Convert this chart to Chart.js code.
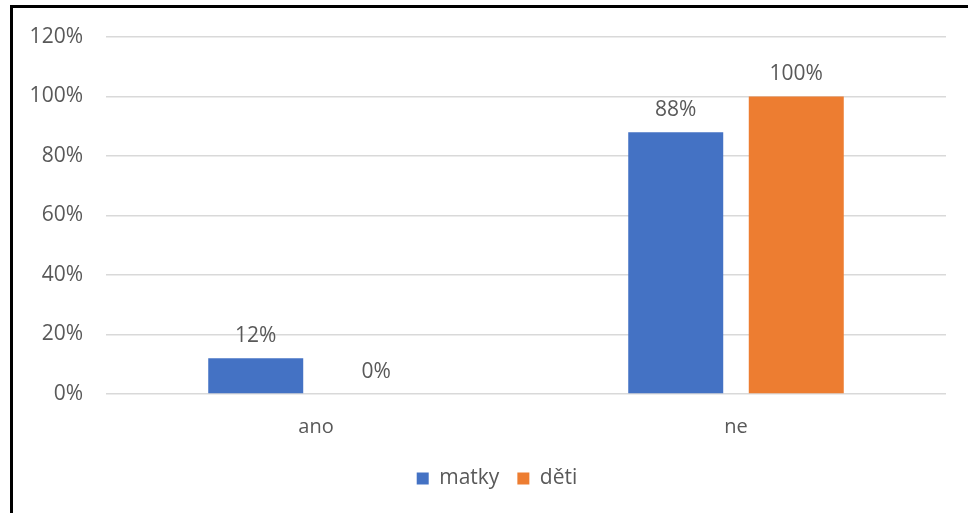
<!DOCTYPE html>
<html>
<head>
<meta charset="utf-8">
<script src="https://cdn.jsdelivr.net/npm/chart.js@4/dist/chart.umd.min.js"></script>
<style>
  html, body { margin: 0; padding: 0; background: #ffffff; }
  #wrap { position: relative; width: 968px; height: 513px; overflow: hidden; }
  #frame { position: absolute; left: 10px; top: 5px; width: 1000px; height: 600px;
           border-left: 3px solid #000; border-top: 3px solid #000; box-sizing: border-box; pointer-events: none; }
  canvas { position: absolute; left: 0; top: 0; }
</style>
</head>
<body>
<div id="wrap">
  <canvas id="c" width="968" height="513"></canvas>
  <div id="frame"></div>
</div>
<script>
const categories = ["ano", "ne"];
const seriesNames = ["matky", "děti"];
const matky = [12, 88];
const deti = [0, 100];
const yTicks = [0, 20, 40, 60, 80, 100, 120];

const FONT = "'Open Sans', 'Liberation Sans', sans-serif";
const TEXT = "#595959";

const valueLabels = {
  id: "valueLabels",
  afterDatasetsDraw(chart) {
    const ctx = chart.ctx;
    ctx.save();
    ctx.font = "21px " + FONT;
    ctx.fillStyle = TEXT;
    ctx.textAlign = "center";
    ctx.textBaseline = "middle";
    chart.data.datasets.forEach((ds, di) => {
      const meta = chart.getDatasetMeta(di);
      meta.data.forEach((el, i) => {
        ctx.fillText(ds.data[i] + "%", el.x, el.y - 22);
      });
    });
    ctx.restore();
  }
};

const legendShift = {
  id: "legendShift",
  afterLayout(chart) {
    if (chart.legend) { chart.legend.left += 48; }
  }
};

new Chart(document.getElementById("c"), {
  type: "bar",
  data: {
    labels: categories,
    datasets: [
      { label: seriesNames[0], data: matky, backgroundColor: "#4472C4", borderWidth: 0 },
      { label: seriesNames[1], data: deti, backgroundColor: "#ED7D31", borderWidth: 0 }
    ]
  },
  options: {
    responsive: false,
    animation: false,
    events: [],
    datasets: { bar: { categoryPercentage: 0.574, barPercentage: 0.788 } },
    layout: { padding: { left: 0, right: 22, top: 37, bottom: 14 } },
    plugins: {
      tooltip: { enabled: false },
      legend: {
        position: "bottom",
        labels: {
          boxWidth: 12, boxHeight: 12, padding: 18,
          color: TEXT, font: { family: FONT, size: 21 }
        }
      }
    },
    scales: {
      x: {
        grid: { display: false, drawTicks: false },
        border: { display: false },
        ticks: { color: TEXT, font: { family: FONT, size: 20 }, padding: 21 },
        afterFit(scale) { scale.height = 56; }
      },
      y: {
        min: 0, max: 120,
        afterBuildTicks(scale) { scale.ticks = yTicks.map(v => ({ value: v })); },
        grid: { color: "#d9d9d9", lineWidth: 1.5, drawTicks: false },
        border: { display: false },
        ticks: { color: TEXT, font: { family: FONT, size: 21 }, padding: 23,
                 callback: v => v + "%" },
        afterFit(scale) { scale.width = 106; }
      }
    }
  },
  plugins: [valueLabels, legendShift]
});
</script>
</body>
</html>
